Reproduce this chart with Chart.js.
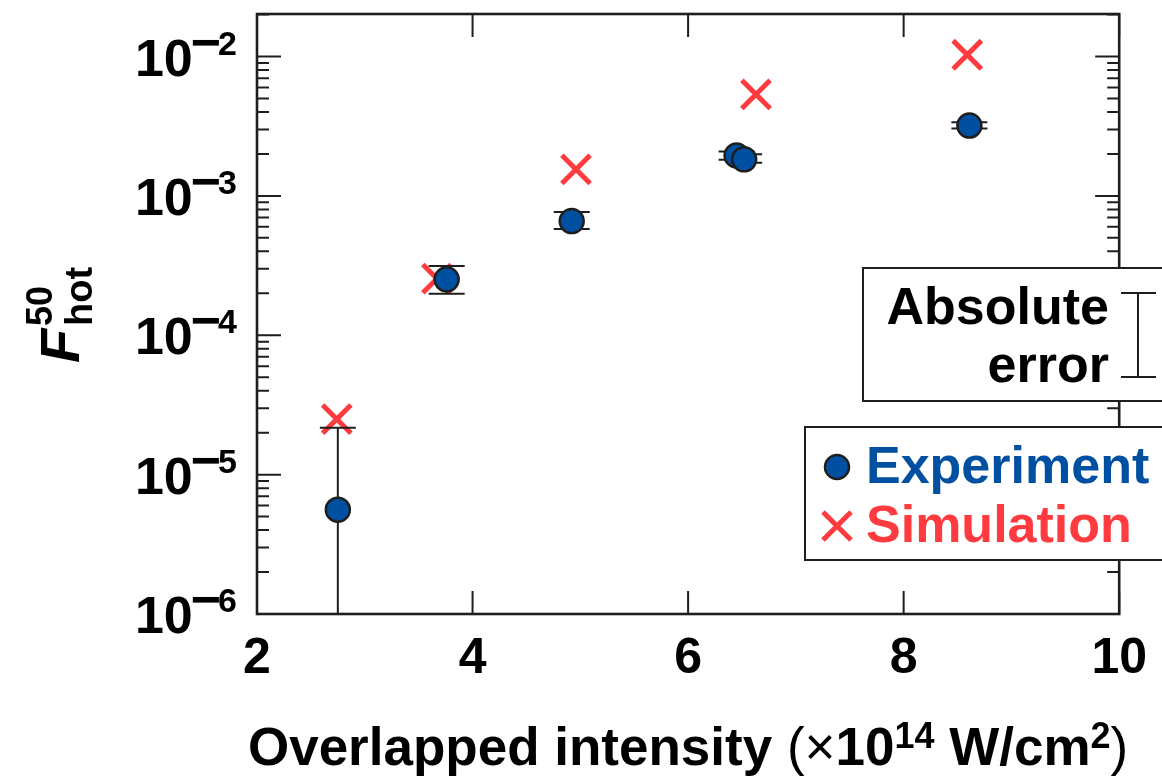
<!DOCTYPE html>
<html>
<head>
<meta charset="utf-8">
<script src="https://cdn.jsdelivr.net/npm/chart.js@4"></script>
<style>
  html, body { margin: 0; padding: 0; background: #fff; }
  #wrap { width: 1162px; height: 779px; }
</style>
</head>
<body>
<div id="wrap"><canvas id="myChart" width="1162" height="779"></canvas></div>
<script>
// experiment (blue circles) with absolute error bars
const expX = [2.75, 3.76, 4.92, 6.45, 6.52, 8.61];
const expY = [5.6e-6, 2.52e-4, 6.6e-4, 1.95e-3, 1.83e-3, 3.2e-3];
const expLow = [0, 1.99e-4, 5.78e-4, 1.82e-3, 1.73e-3, 3.05e-3];
const expHigh = [2.17e-5, 3.14e-4, 7.66e-4, 2.08e-3, 1.99e-3, 3.38e-3];

// simulation (red crosses)
const simX = [2.74, 3.67, 4.96, 6.63, 8.59];
const simY = [2.5e-5, 2.55e-4, 1.55e-3, 5.35e-3, 1.03e-2];

const xTicks = [2, 4, 6, 8, 10];
const yExponents = [-6, -5, -4, -3, -2];

const BLUE = '#0050a2';
const RED = '#ff3b3f';
const INK = '#1e1e1e';
const FAMILY = "'Liberation Sans', Arial, Helvetica, sans-serif";

Chart.defaults.font.family = FAMILY;
Chart.defaults.color = '#000';

function font(size, weight, style) {
  return (style || 'normal') + ' ' + (weight || 'bold') + ' ' + size + 'px ' + FAMILY;
}

function drawErrorBars(chart) {
  const ctx = chart.ctx, xs = chart.scales.x, ys = chart.scales.y, area = chart.chartArea;
  ctx.save();
  ctx.beginPath();
  ctx.rect(area.left, area.top, area.right - area.left, area.bottom - area.top);
  ctx.clip();
  ctx.strokeStyle = INK;
  ctx.lineWidth = 2;
  for (let i = 0; i < expX.length; i++) {
    const px = xs.getPixelForValue(expX[i]);
    const top = ys.getPixelForValue(expHigh[i]);
    const bot = expLow[i] > 0 ? ys.getPixelForValue(expLow[i]) : area.bottom + 5;
    ctx.beginPath();
    ctx.moveTo(px, top); ctx.lineTo(px, bot);
    ctx.moveTo(px - 18, top); ctx.lineTo(px + 18, top);
    if (expLow[i] > 0) { ctx.moveTo(px - 18, bot); ctx.lineTo(px + 18, bot); }
    ctx.stroke();
  }
  ctx.restore();
}

function drawFrame(chart) {
  const ctx = chart.ctx, xs = chart.scales.x, ys = chart.scales.y, a = chart.chartArea;
  ctx.save();
  ctx.strokeStyle = INK;
  ctx.lineWidth = 2;
  ctx.beginPath();
  xTicks.forEach(v => {
    const px = xs.getPixelForValue(v);
    ctx.moveTo(px, a.bottom); ctx.lineTo(px, a.bottom - 23);
    ctx.moveTo(px, a.top); ctx.lineTo(px, a.top + 23);
  });
  yExponents.forEach(e => {
    for (let m = 1; m <= 9; m++) {
      const v = m * Math.pow(10, e);
      if (v > ys.max) break;
      const py = ys.getPixelForValue(v);
      const len = m === 1 ? 24 : 12;
      ctx.moveTo(a.left, py); ctx.lineTo(a.left + len, py);
      ctx.moveTo(a.right, py); ctx.lineTo(a.right - len, py);
    }
  });
  ctx.stroke();
  ctx.lineWidth = 2.6;
  ctx.strokeRect(a.left, a.top, a.right - a.left, a.bottom - a.top);

  // y tick labels 10^n
  ctx.fillStyle = '#000';
  ctx.textAlign = 'left';
  ctx.textBaseline = 'alphabetic';
  yExponents.forEach(e => {
    const py = ys.getPixelForValue(Math.pow(10, e));
    const digit = String(Math.abs(e));
    ctx.font = font(34);
    const dw = ctx.measureText(digit).width;
    const xd = a.left - 20 - dw;
    ctx.fillText(digit, xd, py - 2);
    ctx.font = font(52);
    const mw = ctx.measureText('\u2212').width;
    const xm = xd - mw + 3;
    ctx.fillText('\u2212', xm, py + 3);
    const tw = ctx.measureText('10').width;
    ctx.fillText('10', xm - tw + 2, py + 19);
  });

  // y axis title F^50_hot
  ctx.save();
  ctx.translate(79, 363);
  ctx.rotate(-Math.PI / 2);
  ctx.font = font(56, 'bold', 'italic');
  ctx.fillText('F', 0, 0);
  ctx.font = font(36);
  ctx.fillText('50', 37, -27);
  ctx.font = font(38);
  ctx.fillText('hot', 37, 13);
  ctx.restore();

  // x axis title
  const parts = [
    ['Overlapped intensity ', font(53), 0],
    ['(\u00d7', font(53, 'normal'), 0],
    ['10', font(53), 0],
    ['14', font(36), -17],
    [' W/cm', font(53), 0],
    ['2', font(36), -17],
    [')', font(53, 'normal'), 0]
  ];
  let total = 0;
  parts.forEach(p => { ctx.font = p[1]; total += ctx.measureText(p[0]).width; });
  let cx = (a.left + a.right) / 2 - total / 2;
  parts.forEach(p => {
    ctx.font = p[1];
    ctx.fillText(p[0], cx, 765 + p[2]);
    cx += ctx.measureText(p[0]).width;
  });

  // legend boxes
  ctx.lineWidth = 2;
  ctx.strokeStyle = INK;
  ctx.fillStyle = '#fff';
  ctx.fillRect(863, 268, 320, 133);
  ctx.strokeRect(863, 268, 320, 133);
  ctx.fillRect(805, 427, 380, 133);
  ctx.strokeRect(805, 427, 380, 133);

  ctx.fillStyle = '#000';
  ctx.textAlign = 'right';
  ctx.font = font(52);
  ctx.fillText('Absolute', 1109, 324);
  ctx.fillText('error', 1109, 382);
  ctx.beginPath();
  ctx.moveTo(1138, 293); ctx.lineTo(1138, 377);
  ctx.moveTo(1121, 293); ctx.lineTo(1156, 293);
  ctx.moveTo(1121, 377); ctx.lineTo(1156, 377);
  ctx.stroke();

  ctx.textAlign = 'left';
  ctx.fillStyle = BLUE;
  ctx.fillText('Experiment', 866, 483);
  ctx.fillStyle = RED;
  ctx.fillText('Simulation', 866, 542);

  ctx.beginPath();
  ctx.arc(837, 467, 12, 0, Math.PI * 2);
  ctx.fillStyle = BLUE;
  ctx.fill();
  ctx.lineWidth = 2.5;
  ctx.strokeStyle = INK;
  ctx.stroke();

  ctx.beginPath();
  ctx.strokeStyle = RED;
  ctx.lineWidth = 5;
  ctx.moveTo(823, 512); ctx.lineTo(851, 540);
  ctx.moveTo(851, 512); ctx.lineTo(823, 540);
  ctx.stroke();
  ctx.restore();
}

const framePlugin = {
  id: 'framePlugin',
  afterDatasetDraw(chart, args) {
    if (args.index === 1) drawErrorBars(chart);
  },
  afterDraw(chart) { drawFrame(chart); }
};

const ctx = document.getElementById('myChart');
new Chart(ctx, {
  type: 'scatter',
  data: {
    datasets: [{
      label: 'Experiment',
      data: expX.map((x, i) => ({ x: x, y: expY[i] })),
      pointStyle: 'circle',
      pointRadius: 12,
      backgroundColor: BLUE,
      borderColor: INK,
      borderWidth: 2.5,
      order: 1
    }, {
      label: 'Simulation',
      data: simX.map((x, i) => ({ x: x, y: simY[i] })),
      pointStyle: 'crossRot',
      pointRadius: 20,
      borderColor: RED,
      backgroundColor: RED,
      borderWidth: 5,
      order: 2
    }]
  },
  options: {
    responsive: false,
    animation: false,
    layout: { autoPadding: false, padding: { top: 14, right: 40, left: 0, bottom: 0 } },
    plugins: { legend: { display: false }, tooltip: { enabled: false } },
    scales: {
      x: {
        type: 'linear',
        min: 2,
        max: 10,
        grid: { display: false, drawTicks: false },
        border: { display: false },
        ticks: { stepSize: 2, padding: 15, font: { size: 50, weight: 'bold' }, color: '#000', maxRotation: 0 },
        afterFit(scale) { scale.height = 165; }
      },
      y: {
        type: 'logarithmic',
        min: 1e-6,
        max: 0.0202,
        grid: { display: false, drawTicks: false },
        border: { display: false },
        ticks: { display: false },
        afterFit(scale) { scale.width = 257; }
      }
    }
  },
  plugins: [framePlugin]
});
</script>
</body>
</html>
